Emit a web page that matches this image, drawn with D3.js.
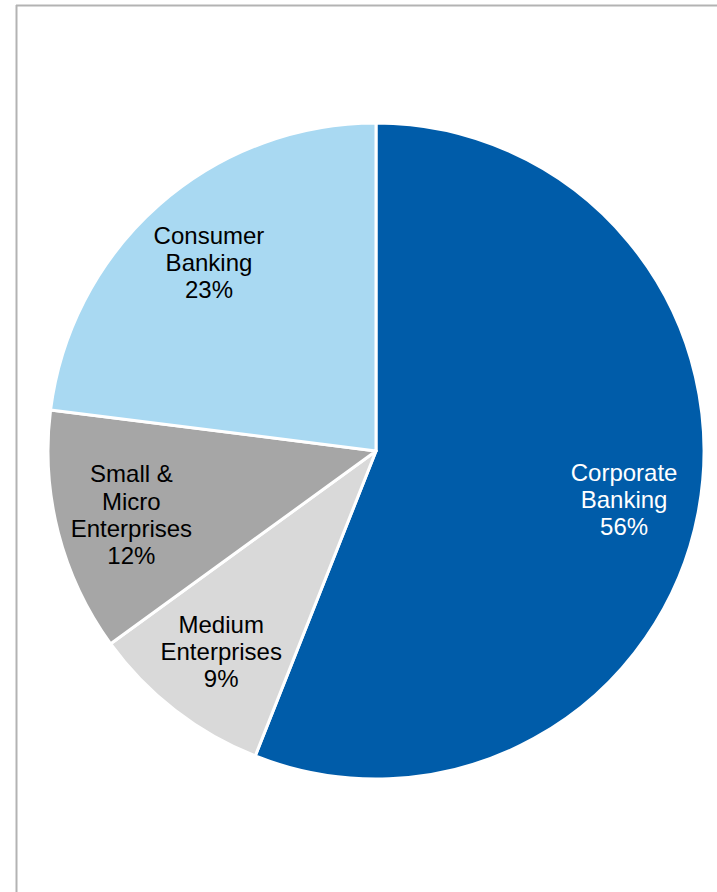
<!DOCTYPE html>
<html>
<head>
<meta charset="utf-8">
<script src="https://cdn.jsdelivr.net/npm/d3@7"></script>
<style>
  html, body { margin: 0; padding: 0; background: #fff; }
  svg { display: block; }
</style>
</head>
<body>
<div id="chart"></div>
<script>
// segment data, clockwise from 12 o'clock
const segments = ['Corporate Banking', 'Medium Enterprises', 'Small & Micro Enterprises', 'Consumer Banking']
const shares = [56, 9, 12, 23]
const labelLines = [
  ['Corporate', 'Banking', '56%'],
  ['Medium', 'Enterprises', '9%'],
  ['Small &', 'Micro', 'Enterprises', '12%'],
  ['Consumer', 'Banking', '23%']
]
const colors = ['#005CA9', '#D9D9D9', '#A6A6A6', '#A9D9F2']
const textColors = ['#ffffff', '#000000', '#000000', '#000000']

const width = 717, height = 892
const cx = 376, cy = 451, radius = 328

const svg = d3.select('#chart').append('svg')
    .attr('width', width)
    .attr('height', height)

// frame lines (top and left)
svg.append('line')
    .attr('x1', 16).attr('y1', 5.5).attr('x2', width).attr('y2', 5.5)
    .attr('stroke', '#b3b3b3').attr('stroke-width', 2)
svg.append('line')
    .attr('x1', 16.5).attr('y1', 5).attr('x2', 16.5).attr('y2', height)
    .attr('stroke', '#b3b3b3').attr('stroke-width', 2)

const data = segments.map((s, i) => ({ name: s, value: shares[i], idx: i }))

const pie = d3.pie()
    .value(d => d.value)
    .sort(null)

const arc = d3.arc()
    .innerRadius(0)
    .outerRadius(radius)

const labelArc = d3.arc()
    .innerRadius(radius * 0.77)
    .outerRadius(radius * 0.77)

const g = svg.append('g')
    .attr('transform', `translate(${cx},${cy})`)

const slices = g.selectAll('.slice')
    .data(pie(data))
  .enter().append('g')
    .attr('class', 'slice')

slices.append('path')
    .attr('d', arc)
    .attr('fill', d => colors[d.data.idx])
    .attr('stroke', '#fff')
    .attr('stroke-width', 3)
    .attr('stroke-linejoin', 'round')

const lineH = 27.3
slices.append('text')
    .attr('transform', d => 'translate(' + labelArc.centroid(d) + ')')
    .attr('text-anchor', 'middle')
    .attr('font-family', 'Arial, "Liberation Sans", sans-serif')
    .attr('font-size', 24)
    .attr('fill', d => textColors[d.data.idx])
    .each(function(d) {
      const lines = labelLines[d.data.idx]
      const y0 = -(lines.length - 1) * lineH / 2
      d3.select(this).selectAll('tspan')
          .data(lines)
        .enter().append('tspan')
          .attr('x', 0)
          .attr('y', (l, i) => y0 + i * lineH)
          .attr('dy', '0.4em')
          .text(l => l)
    })
</script>
</body>
</html>
